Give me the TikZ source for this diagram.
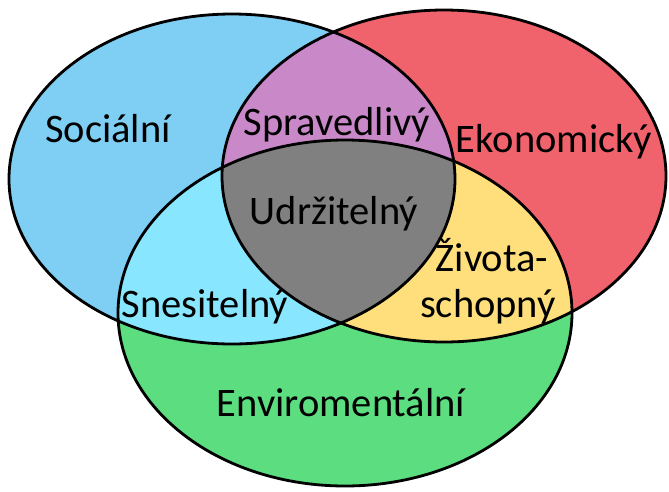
\documentclass[tikz,border=0pt]{standalone}
\usepackage{fontspec}
\setmainfont{Carlito}
\usetikzlibrary{positioning}

\definecolor{socblue}{RGB}{127,206,244}
\definecolor{ekored}{RGB}{240,99,108}
\definecolor{envgreen}{RGB}{92,222,128}
\definecolor{spravpurple}{RGB}{201,136,200}
\definecolor{snescyan}{RGB}{136,230,254}
\definecolor{zivyellow}{RGB}{254,223,124}
\definecolor{udrgray}{RGB}{128,128,128}

\begin{document}
\begin{tikzpicture}[x=1pt,y=-1pt,
        lbl/.style={font=\fontsize{40.5}{46}\selectfont,inner sep=0pt,anchor=base},
        rim/.style={draw=black,line width=2.8pt}]

        \useasboundingbox (0,0) rectangle (669,491);

        \def\socset{(232,179) ellipse [x radius=223pt, y radius=165pt]}
        \def\ekoset{(444,176) ellipse [x radius=222pt, y radius=166pt]}
        \def\envset{(345,313) ellipse [x radius=227pt, y radius=173pt]}

        % the three sets
        \fill[socblue] \socset;
        \fill[ekored] \ekoset;
        \fill[envgreen] \envset;

        % pairwise overlaps
        \begin{scope}
          \clip \socset;
          \fill[spravpurple] \ekoset;
          \fill[snescyan] \envset;
        \end{scope}
        \begin{scope}
          \clip \ekoset;
          \fill[zivyellow] \envset;
        \end{scope}
        \begin{scope}
          \clip \socset;
          \clip \ekoset;
          \fill[udrgray] \envset;
        \end{scope}

        \draw[rim] \socset;
        \draw[rim] \ekoset;
        \draw[rim] \envset;

        \node[lbl] (soc)  at (108,142) {Sociální};
        \node[lbl] (eko)  at (554,152) {Ekonomický};
        \node[lbl] (env)  at (341,416) {Enviromentální};
        \node[lbl] (sprav) at (337,135) {Spravedlivý};
        \node[lbl] (snes) at (205,317) {Snesitelný};
        \node[lbl] (ziv)  at (492,271) {Života-};
        \node[lbl] (schop) at (488,317) {schopný};
        \node[lbl] (udr)  at (334,224) {Udržitelný};
      \end{tikzpicture}
\end{document}
